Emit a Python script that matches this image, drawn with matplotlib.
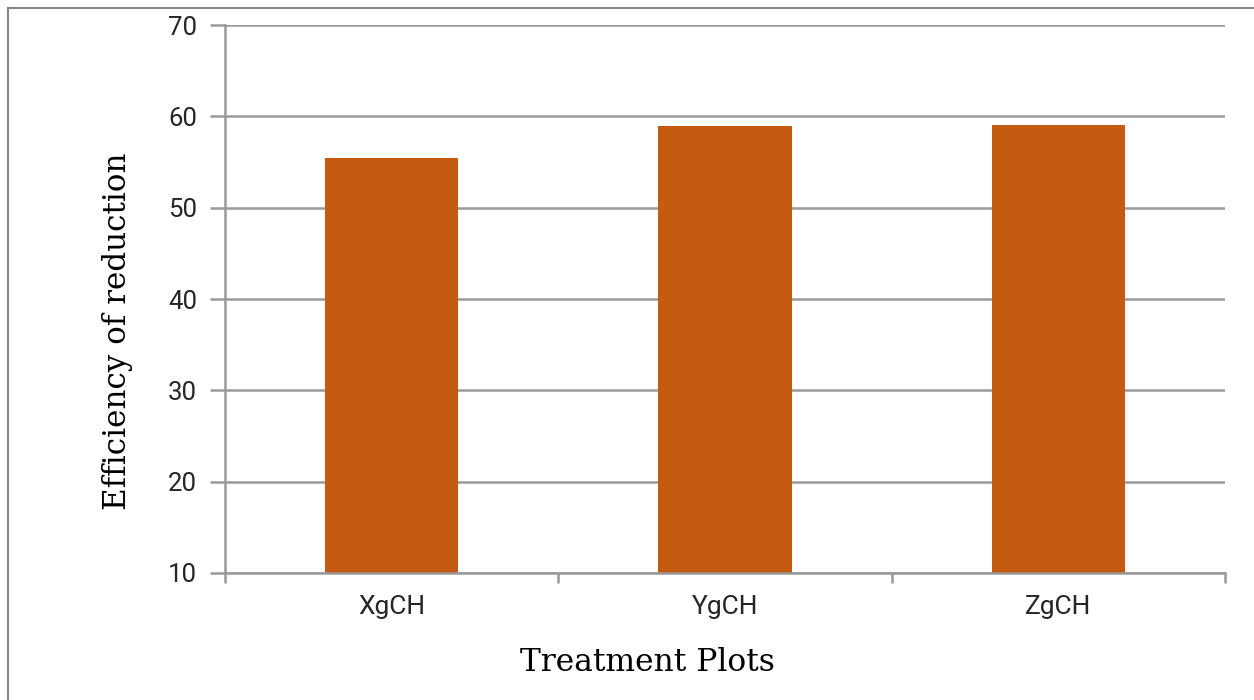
import matplotlib.pyplot as plt
from matplotlib.lines import Line2D

categories = ['XgCH', 'YgCH', 'ZgCH']
efficiency = [55.4, 58.9, 59.1]
y_ticks = [10, 20, 30, 40, 50, 60, 70]

bar_color = '#C55A11'
grid_color = '#999999'

fig = plt.figure(figsize=(12.54, 7), dpi=100)
ax = fig.add_axes([225 / 1254, 1 - 573 / 700, 1000 / 1254, 548 / 700])

x = list(range(len(categories)))
ax.bar(x, efficiency, width=0.4, color=bar_color, zorder=3)

ax.set_xlim(-0.5, len(categories) - 0.5)
ax.set_ylim(10, 70)
ax.set_yticks(y_ticks)
ax.yaxis.grid(True, color=grid_color, linewidth=1.8, zorder=0)
ax.set_axisbelow(True)

# category labels between boundary ticks
ax.set_xticks([i - 0.5 for i in range(len(categories) + 1)], minor=False)
ax.set_xticklabels([])
ax.set_xticks(x, minor=True)
ax.set_xticklabels(categories, minor=True)
ax.tick_params(axis='x', which='major', length=7, width=1.8, color=grid_color, direction='out')
ax.tick_params(axis='x', which='minor', length=0, pad=16, labelsize=19, labelcolor='#262626')
ax.tick_params(axis='y', length=11, width=1.8, color=grid_color, pad=9, labelsize=18.5, labelcolor='#262626')
for lbl in ax.get_xticklabels(minor=True) + ax.get_yticklabels():
    lbl.set_fontfamily('Roboto')

for side in ['top', 'right']:
    ax.spines[side].set_visible(False)
for side in ['left', 'bottom']:
    ax.spines[side].set_color(grid_color)
    ax.spines[side].set_linewidth(1.8)
ax.spines['bottom'].set_zorder(4)

ax.set_ylabel('Efficiency of reduction', fontsize=22.3, fontfamily='DejaVu Serif')
ax.set_xlabel('Treatment Plots', fontsize=22.6, fontfamily='DejaVu Serif')
ax.yaxis.set_label_coords(-0.092, 0.442)
ax.xaxis.set_label_coords(0.422, -0.135)

# outer frame, top and left only
fig.add_artist(Line2D([8 / 1254, 8 / 1254], [0, 1 - 8 / 700], color='#888888', linewidth=1.5))
fig.add_artist(Line2D([8 / 1254, 1], [1 - 8 / 700, 1 - 8 / 700], color='#888888', linewidth=1.5))

fig.savefig('out.png', dpi=100)
